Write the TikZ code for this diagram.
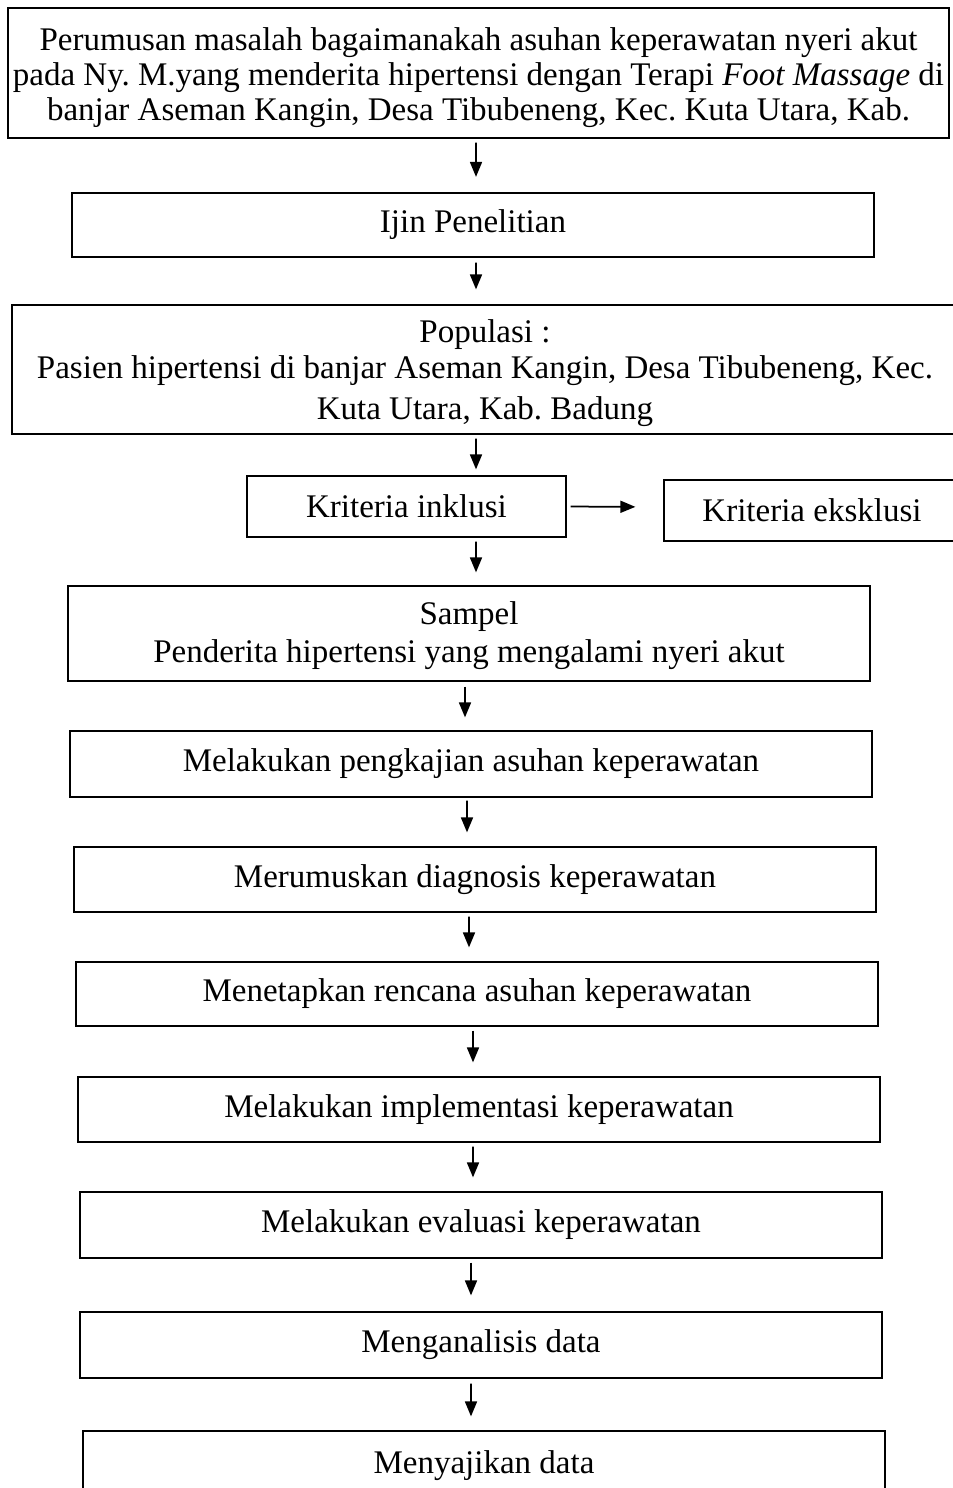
\documentclass[tikz,border=0pt]{standalone}
\usepackage{fontspec}
\setmainfont{Liberation Serif}
\usetikzlibrary{arrows.meta}
\usetikzlibrary{calc,positioning}
\frenchspacing

\begin{document}
\begin{tikzpicture}[x=0.4pt, y=-0.4pt, >={Triangle[length=6pt,width=4.8pt]},
    box/.style={draw, line width=0.5pt, inner sep=0pt, align=center,
        font=\fontsize{13.2}{14.1}\selectfont},
    arr/.style={->, line width=0.7pt}]

    \useasboundingbox (0,0) rectangle (953,1488);

    % kotak-kotak alur
    \node[box, minimum width=941*0.4pt, minimum height=130*0.4pt] (masalah) at (478.5,73)
        {\rule{0pt}{13pt}Perumusan masalah bagaimanakah asuhan keperawatan nyeri akut\\
         pada Ny. M.yang menderita hipertensi dengan Terapi \textit{Foot Massage} di\\
         banjar Aseman Kangin, Desa Tibubeneng, Kec. Kuta Utara, Kab.};
    \node[box, minimum width=802*0.4pt, minimum height=64*0.4pt] (ijin) at (473,225) {Ijin Penelitian};
    \node[box, minimum width=946*0.4pt, minimum height=129*0.4pt] (populasi) at (485,369.5)
        {\rule{0pt}{12pt}Populasi :\\[0.4pt]
         Pasien hipertensi di banjar Aseman Kangin, Desa Tibubeneng, Kec.\\[2pt]
         Kuta Utara, Kab. Badung};
    \node[box, minimum width=319*0.4pt, minimum height=61*0.4pt] (inklusi) at (406.5,506.5) {Kriteria inklusi};
    \node[box, minimum width=296*0.4pt, minimum height=61*0.4pt] (eksklusi) at (812,510.5) {Kriteria eksklusi};
    \node[box, minimum width=802*0.4pt, minimum height=95*0.4pt] (sampel) at (469,633.5)
        {\rule{0pt}{11pt}Sampel\\[1pt] Penderita hipertensi yang mengalami nyeri akut};
    \node[box, minimum width=802*0.4pt, minimum height=66*0.4pt] (kaji) at (471,764) {Melakukan pengkajian asuhan keperawatan};
    \node[box, minimum width=802*0.4pt, minimum height=65*0.4pt] (diagnosa) at (475,879.5) {Merumuskan diagnosis keperawatan};
    \node[box, minimum width=802*0.4pt, minimum height=64*0.4pt] (rencana) at (477,994) {Menetapkan rencana asuhan keperawatan};
    \node[box, minimum width=802*0.4pt, minimum height=65*0.4pt] (implementasi) at (479,1109.5) {Melakukan implementasi keperawatan};
    \node[box, minimum width=802*0.4pt, minimum height=66*0.4pt] (evaluasi) at (481,1225) {Melakukan evaluasi keperawatan};
    \node[box, minimum width=802*0.4pt, minimum height=66*0.4pt] (analisis) at (481,1345) {Menganalisis data};
    \node[box, minimum width=802*0.4pt, minimum height=70*0.4pt] (sajian) at (484,1466) {Menyajikan data};

    % panah
    \draw[arr, shorten <=1.6pt, shorten >=6.2pt] ([xshift=-1pt]masalah.south) -- ([xshift=1.2pt]ijin.north);
    \draw[arr, shorten <=2pt, shorten >=6pt] ([xshift=1.2pt]ijin.south) -- ([xshift=-3.6pt]populasi.north);
    \draw[arr, shorten <=1.6pt, shorten >=2.4pt] ([xshift=-3.6pt]populasi.south) -- ([xshift=27.8pt]inklusi.north);
    \draw[arr, shorten <=1.6pt, shorten >=11.2pt] (inklusi.east) -- ([yshift=1.4pt]eksklusi.west);
    \draw[arr, shorten <=1.6pt, shorten >=5.2pt] ([xshift=27.8pt]inklusi.south) -- ([xshift=2.8pt]sampel.north);
    \draw[arr, shorten <=2pt, shorten >=5.2pt] ([xshift=-1.6pt]sampel.south) -- ([xshift=-2.4pt]kaji.north);
    \draw[arr, shorten <=1.2pt, shorten >=5.6pt] ([xshift=-1.6pt]kaji.south) -- ([xshift=-3.2pt]diagnosa.north);
    \draw[arr, shorten <=1.6pt, shorten >=5.6pt] ([xshift=-2.4pt]diagnosa.south) -- ([xshift=-3.2pt]rencana.north);
    \draw[arr, shorten <=1.6pt, shorten >=5.6pt] ([xshift=-1.6pt]rencana.south) -- ([xshift=-2.4pt]implementasi.north);
    \draw[arr, shorten <=1.6pt, shorten >=5.6pt] ([xshift=-2.4pt]implementasi.south) -- ([xshift=-3.2pt]evaluasi.north);
    \draw[arr, shorten <=1.6pt, shorten >=6.4pt] ([xshift=-4pt]evaluasi.south) -- ([xshift=-4pt]analisis.north);
    \draw[arr, shorten <=2pt, shorten >=5.6pt] ([xshift=-4pt]analisis.south) -- ([xshift=-5.2pt]sajian.north);

\end{tikzpicture}
\end{document}
